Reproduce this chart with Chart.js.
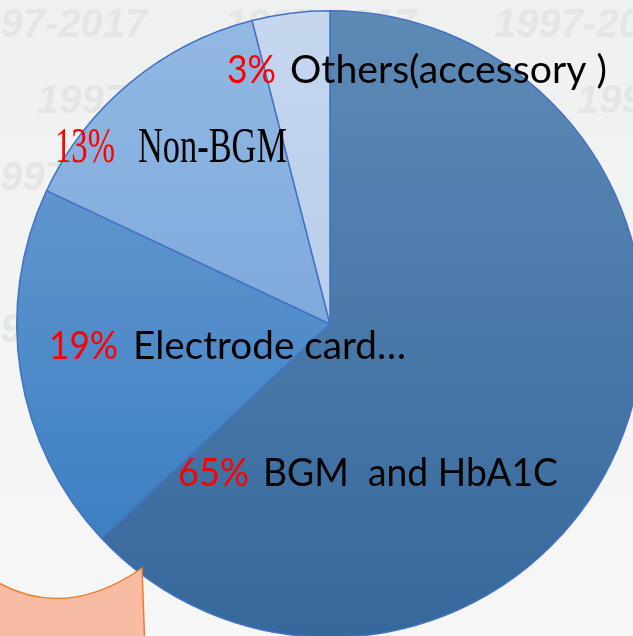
<!DOCTYPE html>
<html><head><meta charset="utf-8">
<script src="https://cdn.jsdelivr.net/npm/chart.js@4.4.1/dist/chart.umd.min.js"></script>
<style>
html,body{margin:0;padding:0;width:633px;height:636px;overflow:hidden;background:linear-gradient(#eff0f0,#f7f7f7);}
#wrap{position:absolute;left:0;top:0;width:660px;height:648px;}
</style></head><body>
<div id="wrap"><canvas id="c" width="660" height="648"></canvas></div>
<script>
// ---- data ----
const categories = ['BGM  and HbA1C', 'Electrode card…', 'Non-BGM', 'Others(accessory )'];
const values = [63, 19, 14, 4];             // slice sizes
const percentLabels = ['65%', '19%', '13%', '3%']; // printed labels
const watermarkText = '1997-2017';

// ---- styles ----
const sliceTop = ['#5e8ab6', '#72a0d4', '#93b9e4', '#c6d7ef'];
const sliceBottom = ['#35689b', '#327abf', '#6a9bd3', '#a9c3e5'];
const borderColor = '#4472c4';

// label layout, offsets from pie centre: [redDx, redW, blackDx, blackW, baselineDy, family, size]
const labelLayout = [
  [-152, 71, -67, 295, 162, 'Lato', 38],
  [-281, 69, -197, 273, 35, 'Lato', 38],
  [-275, 60, -192, 149, -162, '"Liberation Serif"', 51],
  [-103, 49, -40, 317, -241, 'Lato', 38]
];
const watermarkRows = [
  [37, [-44, 225, 494]],
  [113, [37, 306, 577]],
  [190, [-22]],
  [342, [-22]]
];

function sliceGradient(ctx) {
  const chart = ctx.chart;
  const area = chart.chartArea;
  const i = ctx.dataIndex;
  if (!area || i === undefined) return sliceTop[0];
  const g = chart.ctx.createLinearGradient(0, area.top, 0, area.bottom);
  g.addColorStop(0, sliceTop[i]);
  g.addColorStop(1, sliceBottom[i]);
  return g;
}

const backdrop = {
  id: 'backdrop',
  beforeDraw(chart) {
    const c = chart.ctx;
    c.save();
    c.font = 'italic bold 40px "Liberation Sans", Arial, sans-serif';
    c.fillStyle = '#e4e5e5';
    c.textBaseline = 'alphabetic';
    watermarkRows.forEach(([y, xs]) => xs.forEach(x => c.fillText(watermarkText, x, y)));
    c.restore();
  }
};

function fitText(c, text, x, y, w) {
  const m = c.measureText(text).width;
  c.save();
  c.translate(x, y);
  c.scale(w / m, 1);
  c.fillText(text, 0, 0);
  c.restore();
}

const sliceLabels = {
  id: 'sliceLabels',
  afterDatasetsDraw(chart) {
    const c = chart.ctx;
    const arc = chart.getDatasetMeta(0).data[0];
    const cx = arc.x, cy = arc.y;
    c.save();
    c.textBaseline = 'alphabetic';
    c.textAlign = 'left';
    categories.forEach((name, i) => {
      const [rdx, rw, bdx, bw, dy, fam, size] = labelLayout[i];
      c.font = size + 'px ' + fam;
      c.fillStyle = '#ff0000';
      fitText(c, percentLabels[i], cx + rdx, cy + dy, rw);
      c.fillStyle = '#000000';
      fitText(c, name, cx + bdx, cy + dy, bw);
    });
    c.restore();
  },
  afterDraw(chart) {
    // callout shape at bottom-left
    const c = chart.ctx;
    c.save();
    c.beginPath();
    c.moveTo(-3, 582);
    c.quadraticCurveTo(66, 621, 142, 568);
    c.lineTo(145, 650);
    c.lineTo(-3, 650);
    c.closePath();
    c.fillStyle = '#f7bca1';
    c.fill();
    c.lineWidth = 1.5;
    c.strokeStyle = '#ed7d31';
    c.stroke();
    c.restore();
  }
};

new Chart(document.getElementById('c'), {
  type: 'pie',
  data: {
    labels: categories,
    datasets: [{
      data: values,
      backgroundColor: sliceGradient,
      borderColor: borderColor,
      borderWidth: 1.5
    }]
  },
  options: {
    responsive: false,
    devicePixelRatio: 1,
    animation: false,
    events: [],
    layout: { padding: 10 },
    plugins: { legend: { display: false }, tooltip: { enabled: false }, title: { display: false } }
  },
  plugins: [backdrop, sliceLabels]
});
</script>
</body></html>
